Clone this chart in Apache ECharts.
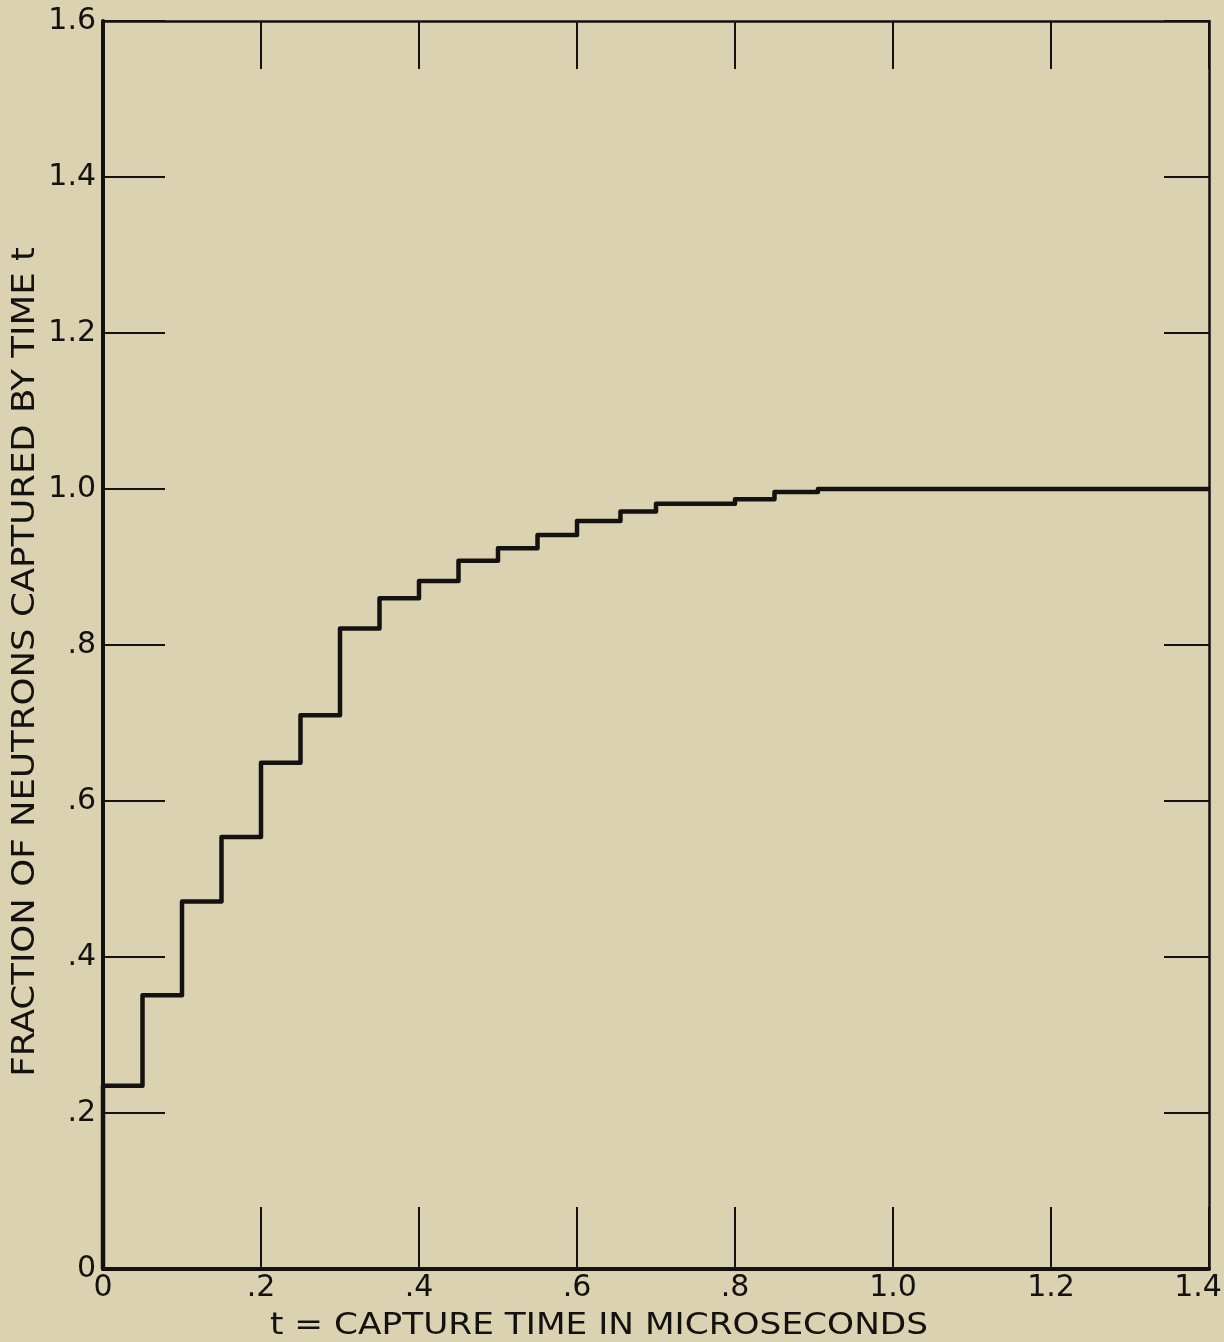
<!DOCTYPE html>
<html>
<head>
<meta charset="utf-8">
<script src="https://cdn.jsdelivr.net/npm/echarts@6/dist/echarts.min.js"></script>
<style>
html,body{margin:0;padding:0;background:#dad2b0;overflow:hidden;}
#chart{width:1224px;height:1342px;}
</style>
</head>
<body>
<div id="chart"></div>
<script>
// Step start times (microseconds) and cumulative fraction captured from that time on
const stepTimes = [0, 0.05, 0.10, 0.15, 0.20, 0.25, 0.30, 0.35, 0.40, 0.45, 0.50, 0.55, 0.60, 0.655, 0.70, 0.80, 0.85, 0.905];
const fractions = [0.235, 0.351, 0.471, 0.554, 0.649, 0.710, 0.821, 0.860, 0.882, 0.908, 0.924, 0.941, 0.959, 0.971, 0.981, 0.987, 0.996, 1.0];
const xEnd = 1.4;
const xTickLabels = ['0', '.2', '.4', '.6', '.8', '1.0', '1.2', '1.4'];
const yTickLabels = ['0', '.2', '.4', '.6', '.8', '1.0', '1.2', '1.4', '1.6'];
const xTitle = 't = CAPTURE TIME IN MICROSECONDS';
const yTitle = 'FRACTION OF NEUTRONS CAPTURED BY TIME t';

const data = [[0, 0]];
stepTimes.forEach((t, i) => data.push([t, fractions[i]]));
data.push([xEnd, fractions[fractions.length - 1]]);

const ink = '#141210';
const font = '"DejaVu Sans", "Liberation Sans", sans-serif';

const chart = echarts.init(document.getElementById('chart'), null, {width: 1224, height: 1342});
chart.setOption({
  backgroundColor: '#dad2b0',
  animation: false,
  grid: {left: 103, right: 15, top: 21, bottom: 73, containLabel: false, outerBoundsMode: 'none'},
  xAxis: [{
    type: 'value', min: 0, max: 1.4, interval: 0.2, position: 'bottom',
    axisLine: {show: true, onZero: false, lineStyle: {color: ink, width: 4}},
    axisTick: {show: true, inside: true, length: 62, lineStyle: {color: ink, width: 2}},
    splitLine: {show: false},
    axisLabel: {
      show: true, margin: 4, color: ink, fontSize: 30, fontFamily: font,
      formatter: v => {
        const i = Math.round(v / 0.2);
        return i === xTickLabels.length - 1 ? '{last|' + xTickLabels[i] + '}' : xTickLabels[i];
      },
      rich: {last: {fontSize: 30, fontFamily: font, color: ink, padding: [0, 22, 0, 0]}}
    }
  }, {
    type: 'value', min: 0, max: 1.4, interval: 0.2, position: 'top',
    axisLine: {show: true, onZero: false, lineStyle: {color: ink, width: 2.5}},
    axisTick: {show: true, inside: true, length: 48, lineStyle: {color: ink, width: 2}},
    splitLine: {show: false},
    axisLabel: {show: false}
  }],
  yAxis: [{
    type: 'value', min: 0, max: 1.6, interval: 0.2, position: 'left',
    axisLine: {show: true, onZero: false, lineStyle: {color: ink, width: 4}},
    axisTick: {show: true, inside: true, length: 62, lineStyle: {color: ink, width: 2}},
    splitLine: {show: false},
    axisLabel: {
      show: true, margin: 7, color: ink, fontSize: 30, fontFamily: font,
      formatter: v => yTickLabels[Math.round(v / 0.2)]
    }
  }, {
    type: 'value', min: 0, max: 1.6, interval: 0.2, position: 'right',
    axisLine: {show: true, onZero: false, lineStyle: {color: ink, width: 2.5}},
    axisTick: {show: true, inside: true, length: 45, lineStyle: {color: ink, width: 2}},
    splitLine: {show: false},
    axisLabel: {show: false}
  }],
  series: [{
    type: 'line', step: 'end', data: data, showSymbol: false, symbol: 'none',
    xAxisIndex: 0, yAxisIndex: 0,
    lineStyle: {color: ink, width: 4.5, join: 'round'}
  }],
  graphic: [{
    type: 'text', x: 599, y: 1326, scaleX: 1.145,
    style: {text: xTitle, fill: ink, font: '30px ' + font, align: 'center', verticalAlign: 'middle'}
  }, {
    type: 'text', x: 26, y: 662, rotation: Math.PI / 2, scaleX: 1.235,
    style: {text: yTitle, fill: ink, font: '32px "DejaVu Sans Condensed", ' + font,
      align: 'center', verticalAlign: 'middle'}
  }]
});
</script>
</body>
</html>
